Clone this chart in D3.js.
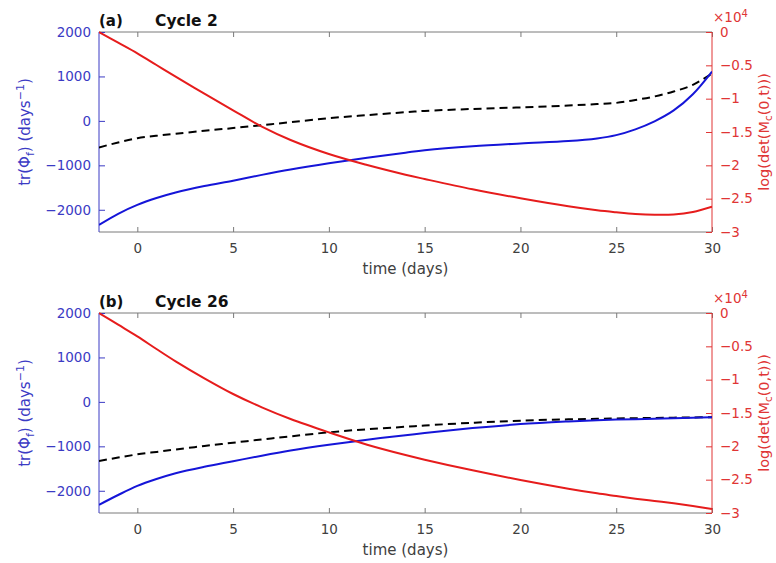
<!DOCTYPE html>
<html><head><meta charset="utf-8">
<script src="https://cdn.jsdelivr.net/npm/d3@7"></script>
<style>
html,body{margin:0;padding:0;background:#fff;}
svg{display:block;font-family:"DejaVu Sans",sans-serif;}
</style></head>
<body><svg id="c" width="776" height="563"></svg>
<script>
// ---- data ----
const days = [-2,-1,0,1,2,3.5,5,6.5,8,10,12,14,15,17.5,20,22.5,24,25,26,27,28,29,30];

// Panel (a) Cycle 2
const trPhiA  = [-2340,-2090,-1890,-1735,-1610,-1465,-1345,-1215,-1095,-955,-830,-715,-660,-570,-508,-455,-395,-320,-190,-10,235,600,1110];
const dashA   = [-597,-485,-390,-335,-290,-222,-162,-95,-30,60,130,195,225,268,304,345,378,405,470,550,660,810,1065];
const logDetA = [0,-0.16,-0.32,-0.495,-0.67,-0.925,-1.175,-1.42,-1.62,-1.83,-1.995,-2.14,-2.205,-2.36,-2.495,-2.615,-2.675,-2.705,-2.73,-2.742,-2.738,-2.70,-2.62]; // x10^4

// Panel (b) Cycle 26
const trPhiB  = [-2316,-2095,-1890,-1735,-1605,-1460,-1335,-1210,-1095,-965,-850,-750,-700,-590,-500,-440,-412,-398,-388,-378,-368,-356,-343];
const dashB   = [-1330,-1252,-1181,-1125,-1070,-992,-919,-845,-775,-685,-615,-560,-530,-470,-422,-393,-380,-374,-367,-361,-355,-349,-343];
const logDetB = [0,-0.175,-0.35,-0.54,-0.725,-0.98,-1.215,-1.415,-1.59,-1.79,-1.975,-2.13,-2.2,-2.36,-2.505,-2.635,-2.705,-2.745,-2.785,-2.82,-2.855,-2.895,-2.94]; // x10^4

const xTicks = [0,5,10,15,20,25,30];
const leftTicks = [-2000,-1000,0,1000,2000];
const rightTicks = [0,-0.5,-1,-1.5,-2,-2.5,-3];
const panels = [
  {tag:"(a)", title:"Cycle 2", tr:trPhiA, dash:dashA, ld:logDetA},
  {tag:"(b)", title:"Cycle 26", tr:trPhiB, dash:dashB, ld:logDetB}
];

// ---- layout ----
const L = 99, R = 712, H = 200, tops = [32, 313];
const blue = "#1515d8", red = "#e61c1c";
const leftAxisCol = "#3b3bc4", rightAxisCol = "#e03535", boxCol = "#7a7a7a", xLabCol = "#404040";
const svg = d3.select("#c");
const x = d3.scaleLinear().domain([-2, 30]).range([L, R]);
const fmtMinus = v => String(v).replace("-", "\u2212");

panels.forEach((p, i) => {
  const T = tops[i], B = T + H;
  const yL = d3.scaleLinear().domain([-2500, 2000]).range([B, T]);
  const yR = d3.scaleLinear().domain([-3, 0]).range([B, T]);
  const g = svg.append("g");

  const clipId = "clip" + i;
  g.append("clipPath").attr("id", clipId).append("rect")
    .attr("x", L).attr("y", T - 1).attr("width", R - L).attr("height", H + 2);

  // box top & bottom
  g.append("line").attr("x1", L).attr("x2", R).attr("y1", T).attr("y2", T).attr("stroke", boxCol);
  g.append("line").attr("x1", L).attr("x2", R).attr("y1", B).attr("y2", B).attr("stroke", boxCol);

  // bottom axis (ticks inward)
  const xb = g.append("g").attr("transform", `translate(0,${B})`)
    .call(d3.axisBottom(x).tickValues(xTicks).tickSize(-5).tickPadding(11).tickFormat(d3.format("d")));
  xb.select(".domain").remove();
  xb.selectAll("line").attr("stroke", boxCol);
  xb.selectAll("text").attr("fill", xLabCol).attr("font-size", 13.5).attr("font-family", "DejaVu Sans");
  // top axis ticks
  const xt = g.append("g").attr("transform", `translate(0,${T})`)
    .call(d3.axisTop(x).tickValues(xTicks).tickSize(-5).tickFormat(""));
  xt.select(".domain").remove();
  xt.selectAll("line").attr("stroke", boxCol);

  // left axis
  const la = g.append("g").attr("transform", `translate(${L},0)`)
    .call(d3.axisLeft(yL).tickValues(leftTicks).tickSize(-6).tickPadding(8).tickFormat(fmtMinus));
  la.select(".domain").attr("stroke", leftAxisCol).attr("d", `M0,${T}V${B}`);
  la.selectAll("line").attr("stroke", leftAxisCol);
  la.selectAll("text").attr("fill", leftAxisCol).attr("font-size", 13.5).attr("font-family", "DejaVu Sans");

  // right axis
  const ra = g.append("g").attr("transform", `translate(${R},0)`)
    .call(d3.axisRight(yR).tickValues(rightTicks).tickSize(-6).tickPadding(8).tickFormat(fmtMinus));
  ra.select(".domain").attr("stroke", rightAxisCol).attr("d", `M0,${T}V${B}`);
  ra.selectAll("line").attr("stroke", rightAxisCol);
  ra.selectAll("text").attr("fill", rightAxisCol).attr("font-size", 13.5).attr("font-family", "DejaVu Sans");

  // x10^4 multiplier
  const mt = g.append("text").attr("x", R + 1).attr("y", T - 10).attr("fill", rightAxisCol)
    .attr("font-size", 13.5);
  mt.append("tspan").text("\u00d710");
  mt.append("tspan").attr("dy", -5).attr("font-size", 10).text("4");

  // lines
  const pts = arr => days.map((d, k) => [d, arr[k]]);
  const curve = d3.curveCatmullRom.alpha(0.5);
  const lineL = d3.line().x(d => x(d[0])).y(d => yL(d[1])).curve(curve);
  const lineR = d3.line().x(d => x(d[0])).y(d => yR(d[1])).curve(curve);
  const lg = g.append("g").attr("clip-path", `url(#${clipId})`);
  lg.append("path").attr("d", lineL(pts(p.dash))).attr("fill", "none")
    .attr("stroke", "#000").attr("stroke-width", 2).attr("stroke-dasharray", "8,5");
  lg.append("path").attr("d", lineL(pts(p.tr))).attr("fill", "none")
    .attr("stroke", blue).attr("stroke-width", 2);
  lg.append("path").attr("d", lineR(pts(p.ld))).attr("fill", "none")
    .attr("stroke", red).attr("stroke-width", 2);

  // titles
  g.append("text").attr("x", L).attr("y", T - 6).attr("font-weight", "bold").attr("font-size", 15)
    .attr("fill", "#111").text(p.tag);
  g.append("text").attr("x", L + 56).attr("y", T - 6).attr("font-weight", "bold").attr("font-size", 15.5)
    .attr("fill", "#111").text(p.title);

  // x label
  g.append("text").attr("x", (L + R) / 2).attr("y", B + 42).attr("text-anchor", "middle")
    .attr("font-size", 15).attr("fill", xLabCol).text("time (days)");

  // left y label
  const yl = g.append("text").attr("transform", `translate(30,${(T + B) / 2}) rotate(-90)`)
    .attr("text-anchor", "middle").attr("font-size", 15).attr("fill", leftAxisCol);
  yl.append("tspan").text("tr(\u03a6");
  yl.append("tspan").attr("dy", 4).attr("font-size", 11).text("f");
  yl.append("tspan").attr("dy", -4).text(") (days");
  yl.append("tspan").attr("dy", -6).attr("font-size", 11).text("\u22121");
  yl.append("tspan").attr("dy", 6).text(")");

  // right y label
  const yr = g.append("text").attr("transform", `translate(769,${(T + B) / 2}) rotate(-90)`)
    .attr("text-anchor", "middle").attr("font-size", 14.5).attr("fill", rightAxisCol);
  yr.append("tspan").text("log(det(M");
  yr.append("tspan").attr("dy", 3).attr("font-size", 10.5).text("c");
  yr.append("tspan").attr("dy", -3).text("(0,t)))");
});
</script></body></html>
